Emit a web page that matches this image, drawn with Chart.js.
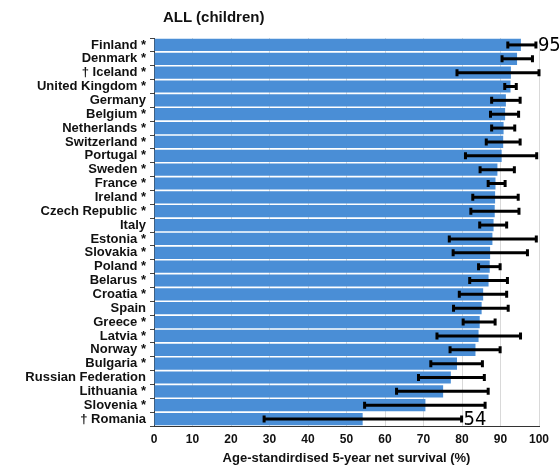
<!DOCTYPE html>
<html>
<head>
<meta charset="utf-8">
<script src="https://cdn.jsdelivr.net/npm/chart.js@4.4.1/dist/chart.umd.min.js"></script>
<style>
  html, body { margin: 0; padding: 0; background: #fff; }
  #wrap { position: relative; width: 559px; height: 468px; }
  #title {
    position: absolute; left: 163px; top: 8px;
    font: bold 15px Arial, "Liberation Sans", sans-serif; color: #111;
  }
</style>
</head>
<body>
<div id="wrap">
  <div id="title">ALL (children)</div>
  <canvas id="chart" width="559" height="468"></canvas>
</div>
<script>
const countries = ['Finland *', 'Denmark *', '† Iceland *', 'United Kingdom *', 'Germany', 'Belgium *',
  'Netherlands *', 'Switzerland *', 'Portugal *', 'Sweden *', 'France *', 'Ireland *', 'Czech Republic *',
  'Italy', 'Estonia *', 'Slovakia *', 'Poland *', 'Belarus *', 'Croatia *', 'Spain', 'Greece *',
  'Latvia *', 'Norway *', 'Bulgaria *', 'Russian Federation', 'Lithuania *', 'Slovenia *', '† Romania'];

const survival = [95.3, 94.3, 92.7, 92.6, 91.4, 91.2, 90.8, 90.7, 90.3, 89.2, 88.7, 88.6, 88.5, 88.2,
  87.9, 87.3, 87.2, 86.9, 85.5, 85.1, 84.6, 84.3, 83.5, 78.7, 77.1, 75.1, 70.5, 54.2];

const lowerCI = [91.9, 90.4, 78.7, 91.1, 87.7, 87.4, 87.7, 86.3, 80.9, 84.7, 86.8, 82.8, 82.3, 84.6,
  76.7, 77.7, 84.3, 82.0, 79.3, 77.8, 80.3, 73.5, 76.9, 71.9, 68.7, 63.0, 54.7, 28.6];

const upperCI = [99.2, 98.3, 100, 94.1, 95.1, 94.7, 93.7, 95.1, 99.4, 93.6, 91.2, 94.6, 94.8, 91.6,
  99.3, 97.0, 89.9, 91.8, 91.6, 92.0, 88.6, 95.2, 89.9, 85.3, 85.8, 86.8, 86.0, 79.9];

// only the highest and lowest values carry a number
const labelledRows = [0, countries.length - 1];

const xTicks = [0, 10, 20, 30, 40, 50, 60, 70, 80, 90, 100];

const errorBars = {
  id: 'errorBars',
  afterDatasetsDraw(chart) {
    const { ctx, scales: { x, y } } = chart;
    ctx.save();
    ctx.strokeStyle = '#000';
    ctx.fillStyle = '#000';
    countries.forEach((_, i) => {
      const py = y.getPixelForValue(i);
      const x1 = x.getPixelForValue(lowerCI[i]);
      const x2 = x.getPixelForValue(upperCI[i]);
      ctx.lineWidth = 3;
      ctx.beginPath();
      ctx.moveTo(x1, py);
      ctx.lineTo(x2, py);
      ctx.stroke();
      ctx.beginPath();
      ctx.moveTo(x1, py - 3.5);
      ctx.lineTo(x1, py + 3.5);
      ctx.moveTo(x2, py - 3.5);
      ctx.lineTo(x2, py + 3.5);
      ctx.stroke();
      if (labelledRows.includes(i)) {
        ctx.font = '20px "Liberation Sans Narrow", "DejaVu Sans Condensed", Arial, sans-serif';
        ctx.textAlign = 'left';
        ctx.textBaseline = 'middle';
        ctx.fillText(String(Math.round(survival[i])), x2 + 2, py + 1);
      }
    });
    ctx.restore();
  }
};

new Chart(document.getElementById('chart'), {
  type: 'bar',
  data: {
    labels: countries,
    datasets: [{
      data: survival,
      backgroundColor: '#4A8ED6',
      borderWidth: 0,
      barPercentage: 0.88,
      categoryPercentage: 1.0
    }]
  },
  options: {
    indexAxis: 'y',
    responsive: false,
    animation: false,
    layout: { padding: { top: 38, right: 20, bottom: 2, left: 4 } },
    plugins: {
      legend: { display: false },
      tooltip: { enabled: false }
    },
    scales: {
      x: {
        min: 0,
        max: 100,
        afterBuildTicks: (s) => { s.ticks = xTicks.map(v => ({ value: v })); },
        afterFit: (s) => { s.height = 40; },
        grid: { color: '#d9d9d9', drawTicks: false },
        border: { color: '#333', width: 1 },
        ticks: {
          padding: 6,
          color: '#111',
          font: { family: 'Arial, "Liberation Sans", sans-serif', size: 12, weight: 'bold' }
        },
        title: {
          display: true,
          text: 'Age-standirdised 5-year net survival (%)',
          color: '#111',
          padding: { top: 2, bottom: 0 },
          font: { family: 'Arial, "Liberation Sans", sans-serif', size: 13, weight: 'bold' }
        }
      },
      y: {
        afterFit: (s) => { s.width = 150; },
        grid: { drawOnChartArea: false, tickLength: 4, color: '#444', offset: true },
        border: { color: '#333', width: 1 },
        ticks: {
          padding: 4,
          color: '#111',
          autoSkip: false,
          font: { family: 'Arial, "Liberation Sans", sans-serif', size: 13, weight: 'bold' }
        }
      }
    }
  },
  plugins: [errorBars]
});
</script>
</body>
</html>
